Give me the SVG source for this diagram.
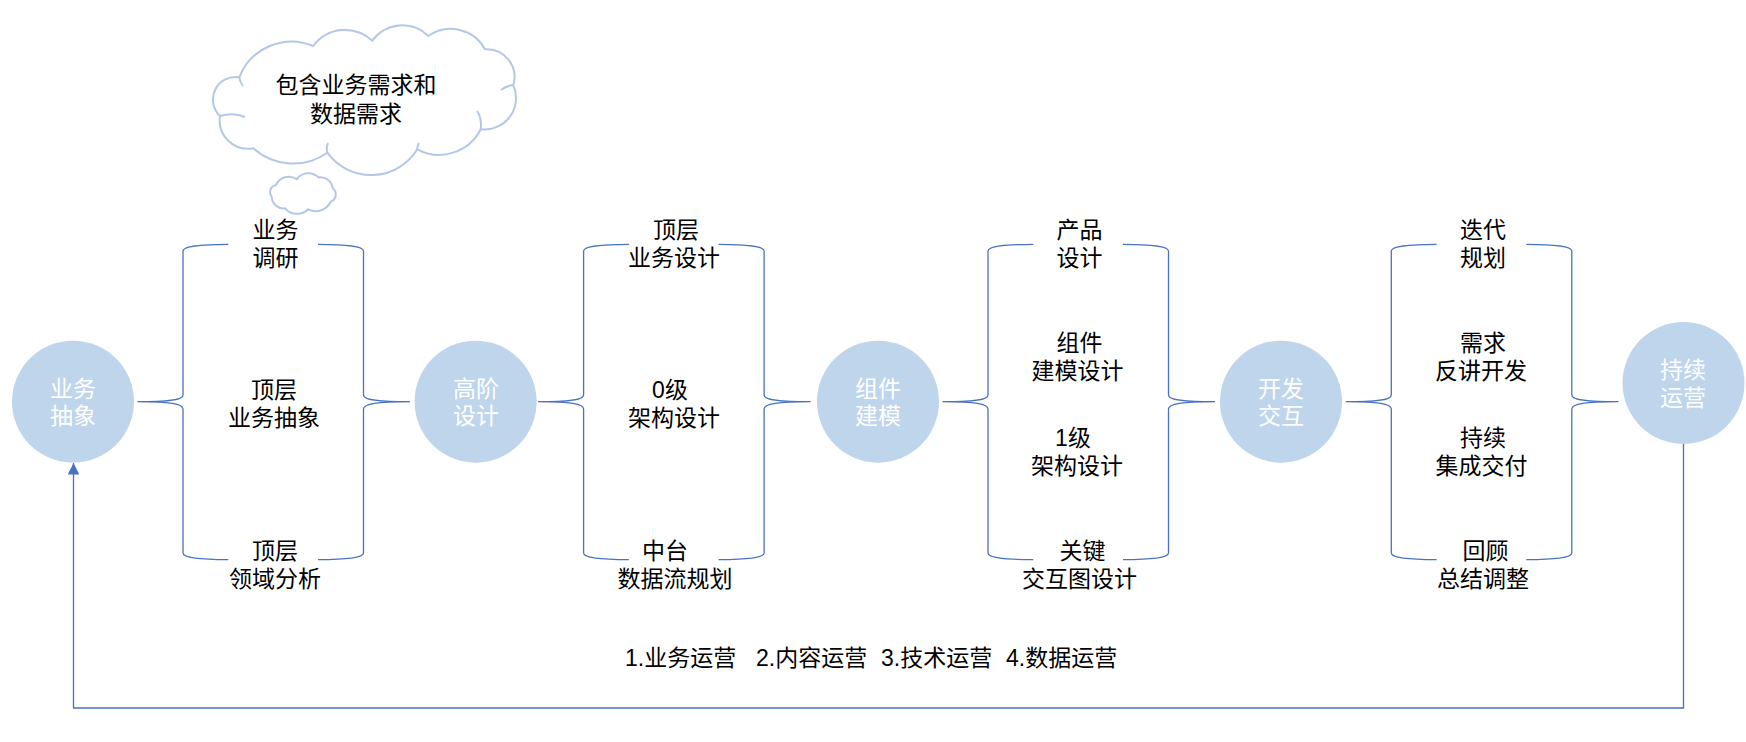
<svg xmlns="http://www.w3.org/2000/svg" xmlns:xlink="http://www.w3.org/1999/xlink" width="1746" height="742" viewBox="0 0 1746 742">
<style>
.t{font-family:"Liberation Sans","Noto Sans CJK SC",sans-serif;font-size:23px;text-anchor:middle;fill:#000}
.w{fill:#fff}
.node{fill:#BED5EC}
.br{fill:none;stroke:#4A72C2;stroke-width:1.3}
.cl{fill:#fff;stroke:#B4C7E7;stroke-width:2}
.cli{fill:none;stroke:#B4C7E7;stroke-width:2}
.loop{fill:none;stroke:#4472C4;stroke-width:1.3}
</style>
<defs>
<marker id="arr" markerUnits="userSpaceOnUse" markerWidth="12" markerHeight="12" refX="11.5" refY="5.8" orient="auto">
<path d="M0,0 L11.5,5.8 L0,11.6 Z" fill="#4472C4"/>
</marker>
<g id="braces">
<path class="br" d="M228.3,244.3 C200,244.5 183,246 183,251 L183,395 C183,400 170,401.7 137.5,401.7 C170,401.7 183,403.5 183,409 L183,553 C183,558 200,559.5 228.3,559.7"/>
<path class="br" d="M318,244.3 C346,244.5 363.5,246 363.5,251 L363.5,395 C363.5,400 377,401.7 410,401.7 C377,401.7 363.5,403.5 363.5,409 L363.5,553 C363.5,558 346,559.5 318,559.7"/>
</g>
</defs>

<g id="connectors">
<use xlink:href="#braces" href="#braces"/>
<use xlink:href="#braces" href="#braces" x="400.6"/>
<use xlink:href="#braces" href="#braces" x="805"/>
<use xlink:href="#braces" href="#braces" x="1208.3"/>
<path class="loop" d="M1683.5,444 L1683.5,708 L73.5,708 L73.5,463" marker-end="url(#arr)"/>
</g>

<g id="cloud">
<path class="cl" d="M239.3,77.3 A56,56 0 0 1 313.3,46 A39.6,39.6 0 0 1 372.3,40.7 A37,37 0 0 1 428.3,36 A39,39 0 0 1 485,49.3 A27.7,27.7 0 0 1 513.3,85 A31.6,31.6 0 0 1 480.7,129.3 A46.5,46.5 0 0 1 417.3,149.3 A54.2,54.2 0 0 1 327.3,152.7 A59.3,59.3 0 0 1 253.3,148.3 A28.4,28.4 0 0 1 220,116 A22.6,22.6 0 0 1 239.3,77.3 Z"/>
<path class="cli" d="M220,116 Q233,112 245,117 M239.3,77.3 Q240,82 243,86 M513.3,85 Q506,86 501,90 M480.7,129.3 Q482,118 477,111 M327.3,152.7 Q326,147 328,143 M417.3,149.3 Q417,146 419,143"/>
<path class="cl" d="M276,185 A14,14 0 0 1 296.7,179.3 A14.3,14.3 0 0 1 318.3,177.3 A12.6,12.6 0 0 1 332.7,188.3 A7.7,7.7 0 0 1 330.7,201.7 A16.5,16.5 0 0 1 308.3,209.3 A16,16 0 0 1 285,208.3 A12,12 0 0 1 271.7,196.7 A7.2,7.2 0 0 1 276,185 Z"/>
<text class="t" x="356" y="92.6">包含业务需求和</text>
<text class="t" x="356" y="121.6">数据需求</text>
</g>

<g id="n1">
<circle class="node" cx="73" cy="401.7" r="61"/>
<text class="t w" x="73" y="396.6">业务</text>
<text class="t w" x="73" y="424">抽象</text>
</g>
<g id="n2">
<circle class="node" cx="475.6" cy="401.7" r="61"/>
<text class="t w" x="476" y="396.6">高阶</text>
<text class="t w" x="476" y="424">设计</text>
</g>
<g id="n3">
<circle class="node" cx="878" cy="401.7" r="61"/>
<text class="t w" x="878" y="396.6">组件</text>
<text class="t w" x="878" y="424">建模</text>
</g>
<g id="n4">
<circle class="node" cx="1281" cy="401.7" r="61"/>
<text class="t w" x="1281" y="396.6">开发</text>
<text class="t w" x="1281" y="424">交互</text>
</g>
<g id="n5">
<circle class="node" cx="1683.5" cy="383" r="61"/>
<text class="t w" x="1683" y="377.6">持续</text>
<text class="t w" x="1683" y="405.6">运营</text>
</g>

<g id="g1-labels">
<text class="t" x="275.5" y="237.6">业务</text>
<text class="t" x="275.5" y="266.1">调研</text>
<text class="t" x="274" y="398">顶层</text>
<text class="t" x="274" y="426">业务抽象</text>
<text class="t" x="275" y="559">顶层</text>
<text class="t" x="275" y="587">领域分析</text>
</g>
<g id="g2-labels">
<text class="t" x="676" y="237.6">顶层</text>
<text class="t" x="674" y="266.1">业务设计</text>
<text class="t" x="670" y="398">0级</text>
<text class="t" x="674" y="426">架构设计</text>
<text class="t" x="665" y="559">中台</text>
<text class="t" x="675" y="587">数据流规划</text>
</g>
<g id="g3-labels">
<text class="t" x="1079.5" y="237.6">产品</text>
<text class="t" x="1079.5" y="266.1">设计</text>
<text class="t" x="1079.5" y="350.6">组件</text>
<text class="t" x="1077.5" y="378.6">建模设计</text>
<text class="t" x="1073" y="445.6">1级</text>
<text class="t" x="1077" y="473.6">架构设计</text>
<text class="t" x="1082.5" y="559">关键</text>
<text class="t" x="1079.5" y="587">交互图设计</text>
</g>
<g id="g4-labels">
<text class="t" x="1483" y="237.6">迭代</text>
<text class="t" x="1483" y="266.1">规划</text>
<text class="t" x="1483" y="350.6">需求</text>
<text class="t" x="1481" y="378.6">反讲开发</text>
<text class="t" x="1483" y="445.6">持续</text>
<text class="t" x="1481.5" y="473.6">集成交付</text>
<text class="t" x="1485.6" y="559">回顾</text>
<text class="t" x="1483" y="587">总结调整</text>
</g>

<g id="ops-note">
<text class="t" style="text-anchor:start" y="665.5"><tspan x="625">1.业务运营</tspan><tspan x="756">2.内容运营</tspan><tspan x="881">3.技术运营</tspan><tspan x="1006">4.数据运营</tspan></text>
</g>
</svg>
